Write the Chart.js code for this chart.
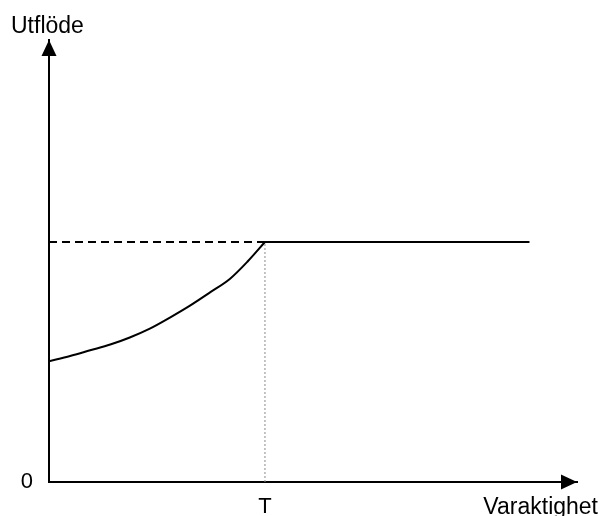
<!DOCTYPE html>
<html>
<head>
<meta charset="utf-8">
<script src="https://cdn.jsdelivr.net/npm/chart.js@4"></script>
<style>
  html, body { margin: 0; padding: 0; background: #fff; }
  #wrap { width: 599px; height: 516px; }
</style>
</head>
<body>
<div id="wrap"><canvas id="chart"></canvas></div>
<script>
// ---------------- data ----------------
const T = 40.9;
const plateau = 54.3;
const plateauEnd = 91;
const curveX = [0, 4.0, 7.8, 11.6, 15.3, 19.1, 22.9, 26.7, 30.5, 34.3, 37.7, T];
const curveY = [27.3, 28.5, 29.8, 31.1, 32.7, 34.7, 37.2, 39.9, 42.9, 46.0, 50.0, plateau];
const xTickValues = [T];
const xTickLabels = ['T'];
const yTickValues = [0];
const yTickLabels = ['0'];
const xTitle = 'Varaktighet';
const yTitle = 'Utflöde';

const FONT = 'Arial, "Liberation Sans", sans-serif';

// ---------------- arrows + axis titles ----------------
const arrowsPlugin = {
  id: 'arrows',
  afterDraw(chart) {
    const { ctx, chartArea: a } = chart;
    const x0 = chart.scales.x.getPixelForValue(0);
    const y0 = chart.scales.y.getPixelForValue(0);
    ctx.save();
    ctx.fillStyle = '#000';
    // y arrow
    ctx.beginPath();
    ctx.moveTo(x0, a.top);
    ctx.lineTo(x0 - 7.5, a.top + 16);
    ctx.lineTo(x0 + 7.5, a.top + 16);
    ctx.closePath();
    ctx.fill();
    // x arrow
    ctx.beginPath();
    ctx.moveTo(a.right, y0);
    ctx.lineTo(a.right - 16, y0 - 7.5);
    ctx.lineTo(a.right - 16, y0 + 7.5);
    ctx.closePath();
    ctx.fill();
    // titles
    ctx.font = '23px ' + FONT;
    ctx.textBaseline = 'alphabetic';
    ctx.textAlign = 'left';
    ctx.fillText(yTitle, 11, 33);
    ctx.textAlign = 'right';
    ctx.fillText(xTitle, 598, 514);
    ctx.restore();
  }
};

const ctx = document.getElementById('chart').getContext('2d');
new Chart(ctx, {
  type: 'line',
  data: {
    datasets: [
      {
        // dotted vertical at T
        data: [{ x: T, y: 0 }, { x: T, y: plateau }],
        borderColor: '#8a8a8a',
        borderWidth: 1,
        borderDash: [2, 2],
        pointRadius: 0
      },
      {
        // dashed reference level
        data: [{ x: 0, y: plateau }, { x: T, y: plateau }],
        borderColor: '#000',
        borderWidth: 2,
        borderDash: [8, 5],
        pointRadius: 0
      },
      {
        // rising curve
        data: curveX.map((x, i) => ({ x, y: curveY[i] })),
        borderColor: '#000',
        borderWidth: 2,
        cubicInterpolationMode: 'monotone',
        pointRadius: 0
      },
      {
        // plateau
        data: [{ x: T, y: plateau }, { x: plateauEnd, y: plateau }],
        borderColor: '#000',
        borderWidth: 2,
        pointRadius: 0
      }
    ]
  },
  options: {
    responsive: true,
    maintainAspectRatio: false,
    animation: false,
    layout: { padding: { top: 40, right: 22, left: 0, bottom: 0 } },
    plugins: {
      legend: { display: false },
      tooltip: { enabled: false }
    },
    scales: {
      x: {
        type: 'linear',
        min: 0,
        max: 100,
        grid: { display: false, drawTicks: false },
        border: { display: true, color: '#000', width: 2 },
        afterBuildTicks: s => { s.ticks = xTickValues.map(v => ({ value: v })); },
        afterFit: s => { s.height = 34; },
        ticks: {
          padding: 12,
          color: '#000',
          font: { size: 22, family: FONT },
          maxRotation: 0,
          callback: (v) => xTickLabels[xTickValues.indexOf(v)]
        }
      },
      y: {
        type: 'linear',
        min: 0,
        max: 100,
        grid: { display: false, drawTicks: false },
        border: { display: true, color: '#000', width: 2 },
        afterBuildTicks: s => { s.ticks = yTickValues.map(v => ({ value: v })); },
        afterFit: s => { s.width = 49; },
        ticks: {
          padding: 16,
          color: '#000',
          font: { size: 22, family: FONT },
          callback: (v) => yTickLabels[yTickValues.indexOf(v)]
        }
      }
    }
  },
  plugins: [arrowsPlugin]
});
</script>
</body>
</html>
